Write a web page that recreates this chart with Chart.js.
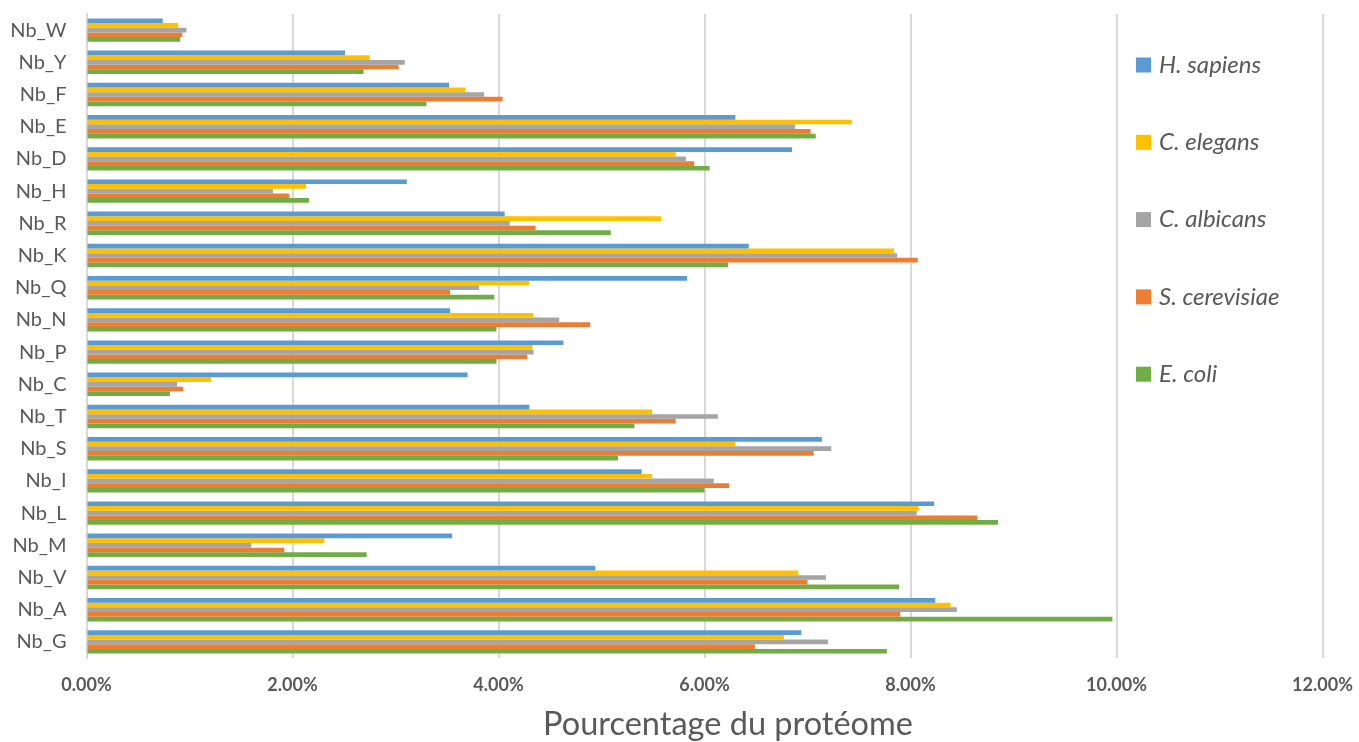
<!DOCTYPE html>
<html lang="fr">
<head>
<meta charset="utf-8">
<title>Pourcentage du protéome</title>
<script src="https://cdn.jsdelivr.net/npm/chart.js@4.4.1/dist/chart.umd.min.js"></script>
<style>
  html, body { margin: 0; padding: 0; background: #ffffff; }
  #wrap { width: 1359px; height: 742px; position: relative; }
</style>
</head>
<body>
<div id="wrap"><canvas id="chart" width="1359" height="742"></canvas></div>
<script>
// Amino-acid composition (% of proteome) per organism
const categories = ['Nb_W','Nb_Y','Nb_F','Nb_E','Nb_D','Nb_H','Nb_R','Nb_K','Nb_Q','Nb_N',
                    'Nb_P','Nb_C','Nb_T','Nb_S','Nb_I','Nb_L','Nb_M','Nb_V','Nb_A','Nb_G'];

const hSapiens    = [0.74, 2.51, 3.52, 6.30, 6.85, 3.11, 4.06, 6.43, 5.83, 3.53,
                     4.63, 3.70, 4.30, 7.14, 5.39, 8.23, 3.55, 4.94, 8.24, 6.94];
const cElegans    = [0.89, 2.75, 3.68, 7.43, 5.72, 2.13, 5.58, 7.84, 4.30, 4.34,
                     4.33, 1.21, 5.49, 6.30, 5.49, 8.08, 2.31, 6.91, 8.39, 6.77];
const cAlbicans   = [0.97, 3.09, 3.86, 6.88, 5.82, 1.81, 4.11, 7.87, 3.81, 4.59,
                     4.34, 0.88, 6.13, 7.23, 6.09, 8.06, 1.60, 7.18, 8.45, 7.20];
const sCerevisiae = [0.93, 3.03, 4.04, 7.03, 5.90, 1.97, 4.36, 8.07, 3.53, 4.89,
                     4.28, 0.94, 5.72, 7.06, 6.24, 8.65, 1.92, 7.00, 7.90, 6.49];
const eColi       = [0.91, 2.69, 3.30, 7.08, 6.05, 2.16, 5.09, 6.23, 3.96, 3.98,
                     3.98, 0.81, 5.32, 5.16, 6.00, 8.85, 2.72, 7.89, 9.96, 7.77];

const seriesNames = ['H. sapiens', 'C. elegans', 'C. albicans', 'S. cerevisiae', 'E. coli'];
const seriesData  = [hSapiens, cElegans, cAlbicans, sCerevisiae, eColi];
const seriesColors = ['#5B9BD5', '#FFC000', '#A5A5A5', '#ED7D31', '#70AD47'];

const axisTitle = 'Pourcentage du protéome';
const xMin = 0, xMax = 12, xStep = 2;

const TEXT = '#595959';
const GRID = '#D9D9D9';

// Legend drawn as a column inside the plot area, on the right
const sideLegend = {
  id: 'sideLegend',
  afterDraw(chart, args, opts) {
    const ctx = chart.ctx;
    ctx.save();
    ctx.font = opts.font;
    ctx.textBaseline = 'middle';
    ctx.textAlign = 'left';
    chart.data.datasets.forEach((ds, i) => {
      const y = opts.top + i * opts.spacing;
      ctx.fillStyle = ds.backgroundColor;
      ctx.fillRect(opts.left, y - opts.box / 2, opts.box, opts.box);
      ctx.fillStyle = TEXT;
      ctx.fillText(ds.label, opts.left + opts.box + 8, y);
    });
    ctx.restore();
  }
};

// Value-axis title, set below the tick labels
const valueAxisTitle = {
  id: 'valueAxisTitle',
  afterDraw(chart, args, opts) {
    const ctx = chart.ctx;
    ctx.save();
    ctx.font = opts.font;
    ctx.fillStyle = TEXT;
    ctx.textAlign = 'center';
    ctx.textBaseline = 'alphabetic';
    ctx.fillText(opts.text, opts.x, opts.y);
    ctx.restore();
  }
};

function draw() {
  Chart.defaults.font.family = 'Lato';
  Chart.defaults.color = TEXT;

  new Chart(document.getElementById('chart'), {
    type: 'bar',
    data: {
      labels: categories,
      datasets: seriesNames.map((name, i) => ({
        label: name,
        data: seriesData[i],
        backgroundColor: seriesColors[i],
        borderWidth: 0,
        barPercentage: 1.0,
        categoryPercentage: 0.726
      }))
    },
    options: {
      indexAxis: 'y',
      responsive: false,
      animation: false,
      devicePixelRatio: 1,
      layout: { padding: { top: 14, right: 36.5, left: 0, bottom: 0 } },
      plugins: {
        legend: { display: false },
        tooltip: { enabled: false },
        sideLegend: { left: 1136, top: 65, spacing: 77.3, box: 15, font: 'italic 24px Lato' },
        valueAxisTitle: { text: axisTitle, x: 728, y: 735, font: '32.5px Lato' }
      },
      scales: {
        x: {
          type: 'linear',
          min: xMin,
          max: xMax,
          border: { display: false },
          grid: { color: GRID, lineWidth: 2, drawTicks: false },
          ticks: {
            stepSize: xStep,
            padding: 16,
            color: TEXT,
            font: { size: 18, weight: 'bold' },
            callback: v => v.toFixed(2) + '%'
          },
          afterFit(scale) {
            scale.height = 84;
            scale.paddingLeft = 0;
            scale.paddingRight = 0;
          }
        },
        y: {
          border: { display: true, color: GRID, width: 2 },
          grid: { display: false, drawTicks: false },
          ticks: {
            padding: 20,
            color: TEXT,
            font: { size: 20 }
          },
          afterFit(scale) {
            scale.width = 86.5;
            scale.paddingTop = 0;
            scale.paddingBottom = 0;
          }
        }
      }
    },
    plugins: [sideLegend, valueAxisTitle]
  });
}

const fontLoads = ['20px Lato', 'bold 18px Lato', '32.5px Lato', 'italic 24px Lato']
  .map(f => document.fonts.load(f).catch(() => null));
Promise.all(fontLoads).then(draw, draw);
</script>
</body>
</html>
